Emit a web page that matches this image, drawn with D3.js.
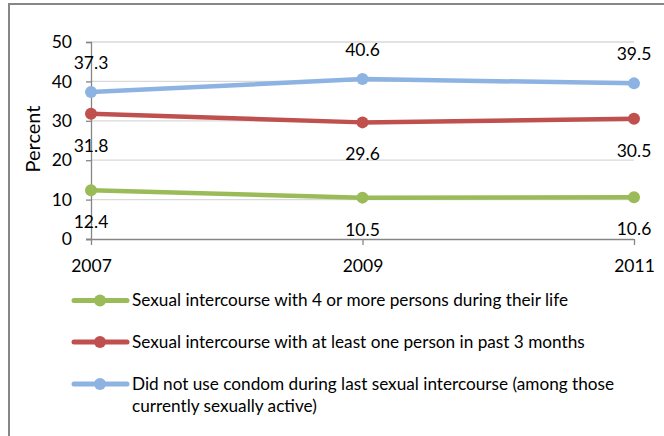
<!DOCTYPE html>
<html><head><meta charset="utf-8">
<script src="https://cdn.jsdelivr.net/npm/d3@7"></script>
<style>body{margin:0;background:#fff}svg{display:block}</style>
</head><body>
<script>
const years = ["2007", "2009", "2011"];
const yTicks = [0, 10, 20, 30, 40, 50];
const seriesNames = [
  "Sexual intercourse with 4 or more persons during their life",
  "Sexual intercourse with at least one person in past 3 months",
  "Did not use condom during last sexual intercourse (among those currently sexually active)"
];
const legendLines = [
  ["Sexual intercourse with 4 or more persons during their life"],
  ["Sexual intercourse with at least one person in past 3 months"],
  ["Did not use condom during last sexual intercourse (among those", "currently sexually active)"]
];
const fourOrMore = [12.4, 10.5, 10.6];
const past3Months = [31.8, 29.6, 30.5];
const noCondom = [37.3, 40.6, 39.5];
const colors = ["#9bbb59", "#c0504d", "#8db3e2"];
const labelPos = ["below", "below", "above"];

const W = 664, H = 436;
const font = "Lato, 'Open Sans', sans-serif";
const svg = d3.select("body").append("svg").attr("width", W).attr("height", H);

svg.append("rect").attr("x", 9).attr("y", 4).attr("width", 700).attr("height", 500)
  .attr("fill", "#fff").attr("stroke", "#878787").attr("stroke-width", 2);

const x = d3.scalePoint().domain(years).range([91, 634]);
const y = d3.scaleLinear().domain([0, 50]).range([239, 42]);

// gridlines
svg.append("g").selectAll("line").data(yTicks.filter(d => d > 0)).join("line")
  .attr("x1", 91).attr("x2", 634).attr("y1", d => y(d)).attr("y2", d => y(d))
  .attr("stroke", "#d9d9d9").attr("stroke-width", 1.3);

// y axis
const yAxis = svg.append("g").attr("transform", "translate(91,0)")
  .call(d3.axisLeft(y).tickValues(yTicks).tickSize(5).tickPadding(14));
yAxis.select(".domain").attr("stroke", "#868686").attr("stroke-width", 1.3);
yAxis.selectAll(".tick line").attr("stroke", "#868686").attr("stroke-width", 1.3);
yAxis.selectAll("text").attr("font-family", font).attr("font-size", 17.5).attr("fill", "#000");

// x axis
const xAxis = svg.append("g").attr("transform", "translate(0,239)")
  .call(d3.axisBottom(x).tickSize(6).tickPadding(15).tickSizeOuter(0));
xAxis.select(".domain").attr("stroke", "#868686").attr("stroke-width", 1.3)
  .attr("d", "M86,0.5H634");
xAxis.selectAll(".tick line").attr("stroke", "#868686").attr("stroke-width", 1.3);
xAxis.selectAll("text").attr("font-family", font).attr("font-size", 17.5).attr("fill", "#000");

svg.append("text").attr("transform", "translate(40,139) rotate(-90)")
  .attr("text-anchor", "middle").attr("font-family", font).attr("font-size", 20).text("Percent");

const allSeries = [fourOrMore, past3Months, noCondom];
const line = d3.line().x((d, i) => x(years[i])).y(d => y(d));
allSeries.forEach((vals, s) => {
  const g = svg.append("g");
  g.append("path").attr("d", line(vals)).attr("fill", "none")
    .attr("stroke", colors[s]).attr("stroke-width", 4.5).attr("stroke-linejoin", "round");
  g.selectAll("circle").data(vals).join("circle")
    .attr("cx", (d, i) => x(years[i])).attr("cy", d => y(d)).attr("r", 6).attr("fill", colors[s]);
  g.selectAll("text").data(vals).join("text")
    .attr("x", (d, i) => x(years[i]))
    .attr("y", d => y(d) + (labelPos[s] === "above" ? -23 : 38))
    .attr("text-anchor", "middle").attr("font-family", font).attr("font-size", 17.5)
    .text(d => d.toFixed(1));
});

// legend
const legY = [300.5, 342, 384];
legendLines.forEach((lines, s) => {
  const g = svg.append("g").attr("transform", `translate(0,${legY[s]})`);
  g.append("line").attr("x1", 74).attr("x2", 127).attr("y1", 0).attr("y2", 0)
    .attr("stroke", colors[s]).attr("stroke-width", 5).attr("stroke-linecap", "round");
  g.append("circle").attr("cx", 100).attr("cy", 0).attr("r", 6).attr("fill", colors[s]);
  const t = g.append("text").attr("font-family", font).attr("font-size", 17.2).attr("fill", "#000");
  lines.forEach((ln, k) => t.append("tspan").attr("x", 132).attr("y", 5.5 + k * 22.5).text(ln));
});
</script>
</body></html>
